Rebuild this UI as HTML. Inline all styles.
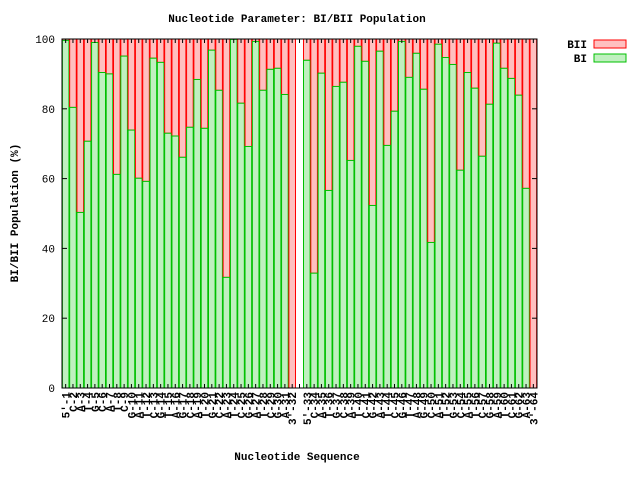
<!DOCTYPE html>
<html><head><meta charset="utf-8"><style>
body{margin:0;background:#fff}
svg text{font-family:"Liberation Mono","DejaVu Sans Mono",monospace;font-size:11px;fill:#000}
</style></head><body>
<svg id="s" width="640" height="480" xmlns="http://www.w3.org/2000/svg">
<rect width="640" height="480" fill="#fff"/>
<g id="bars"></g>
<rect x="62" y="39" width="475" height="349" fill="none" stroke="#000" stroke-width="1"/>
<g id="ticks"></g>
<text x="297" y="22" text-anchor="middle" font-weight="bold">Nucleotide Parameter: BI/BII Population</text>
<text x="297" y="460" text-anchor="middle" font-weight="bold">Nucleotide Sequence</text>
<text transform="translate(18,213) rotate(-90)" text-anchor="middle" font-weight="bold">BI/BII Population (%)</text>
<text x="587" y="48" text-anchor="end" font-weight="bold">BII</text>
<rect x="594" y="40" width="32" height="8" fill="#ffc0c0" stroke="#ff0000"/>
<text x="587" y="62" text-anchor="end" font-weight="bold">BI</text>
<rect x="594" y="54" width="32" height="8" fill="#c0f0c0" stroke="#00c000"/>
</svg>
<script>
var v=[99.6,80.4,50.3,70.7,99,90.4,90,61.2,95.1,73.9,60.1,59.2,94.5,93.3,73,72.2,66.1,74.7,88.4,74.4,96.8,85.3,31.7,99.9,81.6,69.2,99.3,85.3,91.3,91.6,84.1,0,
null,
93.9,32.9,90.2,56.6,86.4,87.6,65.2,97.9,93.6,52.3,96.5,69.5,79.3,99.3,89,95.9,85.6,41.7,98.5,94.7,92.7,62.4,90.4,85.9,66.4,81.3,98.8,91.6,88.7,83.9,57.2,0];
var L="GCATGCATCGATCGTAGCATGCATCGATCGAT";
var ns="http://www.w3.org/2000/svg",b=document.getElementById("bars"),t=document.getElementById("ticks");
function el(n,a,p,txt){var e=document.createElementNS(ns,n);for(var k in a)e.setAttribute(k,a[k]);if(txt)e.textContent=txt;p.appendChild(e);return e;}
var sw=475/65,bw=6.6,y0=388,h=349,num=0;
for(var i=0;i<65;i++){
 var c=62+sw*(i+0.5);
 el("line",{x1:c,y1:388,x2:c,y2:384,stroke:"#000"},t);
 el("line",{x1:c,y1:39,x2:c,y2:43,stroke:"#000"},t);
 if(v[i]===null)continue;
 num++;
 var gy=y0-h*v[i]/100;
 el("rect",{x:c-bw/2,y:39,width:bw,height:gy-39,fill:"#ffc0c0",stroke:"#ff0000","stroke-width":1},b);
 if(v[i]>0)el("rect",{x:c-bw/2,y:gy,width:bw,height:y0-gy,fill:"#c0f0c0",stroke:"#00c000","stroke-width":1},b);
 var lab=(num==1?"5'-1":num==33?"5'-33":num==32?"3'-32":num==64?"3'-64":L[(num-1)%32]+"-"+num);
 el("text",{transform:"translate("+(c+4)+",392) rotate(-90)","text-anchor":"end","font-weight":"bold"},t,lab);
}
for(var k=0;k<=5;k++){
 var y=y0-h*k/5;
 el("line",{x1:62,y1:y,x2:67,y2:y,stroke:"#000"},t);
 el("line",{x1:537,y1:y,x2:532,y2:y,stroke:"#000"},t);
 el("text",{x:55,y:y+4,"text-anchor":"end"},t,String(k*20));
}
</script>
</body></html>
